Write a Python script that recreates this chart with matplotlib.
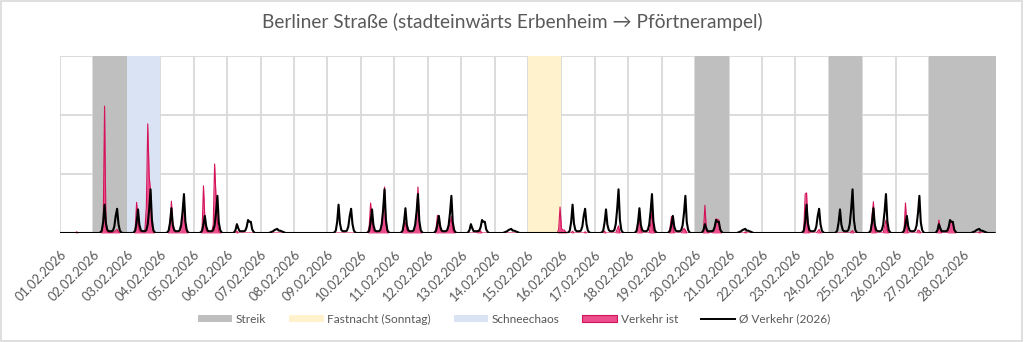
import numpy as np
import matplotlib
matplotlib.use("Agg")
import matplotlib.pyplot as plt
from matplotlib.patches import Patch, Rectangle
from matplotlib.lines import Line2D

plt.rcParams['font.family'] = ['Lato', 'DejaVu Sans']

# Tageslabels (Tagesbeginn)
dates = ["01.02.2026", "02.02.2026", "03.02.2026", "04.02.2026", "05.02.2026",
         "06.02.2026", "07.02.2026", "08.02.2026", "09.02.2026", "10.02.2026",
         "11.02.2026", "12.02.2026", "13.02.2026", "14.02.2026", "15.02.2026",
         "16.02.2026", "17.02.2026", "18.02.2026", "19.02.2026", "20.02.2026",
         "21.02.2026", "22.02.2026", "23.02.2026", "24.02.2026", "25.02.2026",
         "26.02.2026", "27.02.2026", "28.02.2026"]

# Sondertage (Tag im Monat)
streik_days = [2, 20, 24, 27, 28]
fastnacht_days = [15]
schnee_days = [3]

# Ø Verkehr 2026 je Wochentag, stündlich (0-23 Uhr)
avg_sun = [0, 0, 0, 0, 0, 0, 0, 0, 0, 0, 0, 0, 0, 0, 0, 0, 0, 0, 0, 0, 0, 0, 0, 0]
avg_mon = [0, 0, 0, 0, 0, 1, 4, 19, 48, 16, 5, 3, 3, 3, 4, 11, 29, 41, 15, 4, 1, 0, 0, 0]
avg_tue = [0, 0, 0, 0, 0, 1, 4, 18, 40, 14, 5, 3, 3, 3, 5, 15, 40, 74, 22, 5, 1, 0, 0, 0]
avg_wed = [0, 0, 0, 0, 0, 1, 4, 18, 42, 14, 5, 3, 3, 3, 5, 14, 36, 66, 20, 5, 1, 0, 0, 0]
avg_thu = [0, 0, 0, 0, 0, 1, 4, 15, 29, 11, 4, 3, 3, 3, 5, 13, 34, 63, 18, 5, 1, 0, 0, 0]
avg_fri = [0, 0, 0, 0, 0, 1, 5, 15, 8, 3, 3, 3, 3, 4, 10, 22, 19, 19, 6, 2, 0, 0, 0, 0]
avg_sat = [0, 0, 0, 0, 0, 0, 0, 1, 2, 3, 5, 6, 7, 4, 4, 3, 2, 1, 0, 0, 0, 0, 0, 0]
avg_week = [avg_sun, avg_mon, avg_tue, avg_wed, avg_thu, avg_fri, avg_sat]

# Verkehr ist, stündlich je Tag (01.02. = Sonntag)
ist = [
    [0, 0, 0, 0, 0, 0, 0, 0, 0, 0, 0, 0, 2, 0, 0, 0, 0, 0, 0, 0, 0, 0, 0, 0],
    [0, 0, 0, 0, 0, 0, 1, 12, 215, 10, 2, 1, 1, 1, 1, 2, 4, 6, 2, 0, 0, 0, 0, 0],
    [0, 0, 0, 0, 0, 0, 6, 52, 20, 4, 2, 2, 3, 6, 45, 185, 97, 70, 12, 2, 0, 0, 0, 0],
    [0, 0, 0, 0, 0, 0, 2, 14, 54, 10, 3, 2, 2, 2, 3, 8, 28, 62, 12, 2, 0, 0, 0, 0],
    [0, 0, 0, 0, 0, 0, 5, 80, 24, 4, 2, 2, 2, 3, 14, 117, 62, 16, 3, 1, 0, 0, 0, 0],
    [0, 0, 0, 0, 0, 0, 0, 3, 0, 0, 0, 0, 0, 0, 0, 0, 0, 0, 0, 0, 0, 0, 0, 0],
    [0, 0, 0, 0, 0, 0, 0, 0, 0, 0, 0, 0, 0, 0, 0, 0, 0, 0, 0, 0, 0, 0, 0, 0],
    [0, 0, 0, 0, 0, 0, 0, 0, 0, 0, 0, 0, 0, 0, 0, 0, 0, 0, 0, 0, 0, 0, 0, 0],
    [0, 0, 0, 0, 0, 0, 0, 0, 0, 0, 0, 0, 0, 0, 0, 0, 0, 0, 0, 0, 0, 0, 0, 0],
    [0, 0, 0, 0, 0, 0, 12, 51, 22, 4, 2, 2, 2, 3, 6, 16, 38, 78, 14, 2, 0, 0, 0, 0],
    [0, 0, 0, 0, 0, 0, 2, 10, 18, 5, 2, 2, 2, 3, 5, 12, 34, 78, 12, 2, 0, 0, 0, 0],
    [0, 0, 0, 0, 0, 0, 8, 30, 24, 6, 3, 2, 2, 3, 5, 9, 16, 28, 5, 1, 0, 0, 0, 0],
    [0, 0, 0, 0, 0, 0, 0, 0, 0, 0, 0, 0, 4, 5, 3, 0, 0, 0, 0, 0, 0, 0, 0, 0],
    [0, 0, 0, 0, 0, 0, 0, 0, 0, 0, 0, 0, 0, 0, 0, 0, 0, 0, 0, 0, 0, 0, 0, 0],
    [0, 0, 0, 0, 0, 0, 0, 0, 0, 0, 0, 0, 0, 0, 0, 0, 0, 0, 0, 0, 0, 0, 6, 44],
    [8, 5, 5, 2, 0, 0, 0, 0, 3, 0, 0, 0, 0, 0, 0, 0, 0, 2, 0, 0, 0, 0, 0, 0],
    [0, 0, 0, 0, 0, 0, 0, 3, 0, 0, 0, 0, 0, 0, 0, 0, 6, 12, 0, 0, 0, 0, 0, 0],
    [0, 0, 0, 0, 0, 0, 0, 10, 40, 5, 0, 0, 0, 0, 0, 0, 14, 36, 5, 0, 0, 0, 0, 0],
    [0, 0, 0, 0, 0, 0, 9, 28, 12, 0, 0, 0, 0, 0, 0, 4, 8, 5, 0, 0, 0, 0, 0, 0],
    [0, 0, 0, 0, 0, 0, 4, 47, 8, 2, 0, 0, 0, 3, 7, 24, 23, 22, 4, 0, 0, 0, 0, 0],
    [0, 0, 0, 0, 0, 0, 0, 0, 0, 0, 0, 0, 2, 0, 0, 0, 0, 0, 0, 0, 0, 0, 0, 0],
    [0, 0, 0, 0, 0, 0, 0, 0, 0, 0, 0, 0, 0, 0, 0, 0, 0, 0, 0, 0, 0, 0, 0, 0],
    [0, 0, 0, 0, 0, 0, 6, 66, 68, 8, 0, 0, 0, 0, 0, 0, 3, 6, 1, 0, 0, 0, 0, 0],
    [0, 0, 0, 0, 0, 0, 0, 0, 0, 0, 0, 0, 0, 0, 0, 0, 2, 4, 0, 0, 0, 0, 0, 0],
    [0, 0, 0, 0, 0, 0, 0, 30, 53, 5, 0, 0, 0, 0, 0, 0, 11, 22, 4, 0, 0, 0, 0, 0],
    [0, 0, 0, 0, 0, 0, 5, 51, 10, 0, 0, 0, 0, 0, 0, 0, 5, 4, 0, 0, 0, 0, 0, 0],
    [0, 0, 0, 0, 0, 0, 3, 22, 6, 0, 0, 0, 0, 0, 5, 20, 19, 18, 4, 0, 0, 0, 0, 0],
    [0, 0, 0, 0, 0, 0, 0, 0, 0, 0, 0, 0, 2, 0, 0, 0, 0, 0, 0, 0, 0, 0, 0, 0],
]

ist_values = np.concatenate([np.array(day, dtype=float) for day in ist])
avg_values = np.concatenate([np.array(avg_week[d % 7], dtype=float) for d in range(len(dates))])
x = np.arange(len(ist_values)) / 24.0

grey = '#595959'
grid_c = '#D9D9D9'

fig = plt.figure(figsize=(10.24, 3.42), dpi=100)
ax = fig.add_axes([60 / 1024, 1 - 233 / 342, 936 / 1024, 177 / 342])

# Hintergrundbänder
for d in streik_days:
    ax.axvspan(d - 1, d, color='#BFBFBF', lw=0, zorder=1)
for d in fastnacht_days:
    ax.axvspan(d - 1, d, color='#FFF2CC', lw=0, zorder=1)
for d in schnee_days:
    ax.axvspan(d - 1, d, color='#DAE3F3', lw=0, zorder=1)

ax.fill_between(x, ist_values, 0, color='#EC4D8C', lw=0, zorder=2)
ax.plot(x, ist_values, color='#D4145A', lw=0.8, zorder=2.5)
ax.plot(x, avg_values, color='black', lw=1.5, zorder=3)

ax.set_xlim(0, len(dates))
ax.set_ylim(0, 300)
ax.set_xticks(np.arange(len(dates)))
ax.set_xticklabels(dates, rotation=45, ha='right', rotation_mode='anchor',
                   fontsize=9.3, color=grey)
ax.set_yticks([0, 100, 200, 300])
ax.set_yticklabels([])
ax.tick_params(axis='both', length=0)
ax.tick_params(axis='x', pad=11)

# Gitter: Tagesgrenzen und horizontale Linien
for d in range(len(dates) + 1):
    ax.axvline(d, color=grid_c, lw=1.3, zorder=0)
for yv in [100, 200, 300]:
    ax.axhline(yv, color=grid_c, lw=1.3, zorder=0)
for s in ax.spines.values():
    s.set_visible(False)

fig.text(0.5, 1 - 22 / 342, 'Berliner Straße (stadteinwärts Erbenheim → Pförtnerampel)',
         ha='center', va='center', fontsize=13.8, color=grey)

handles = [
    Patch(facecolor='#BFBFBF', edgecolor='none'),
    Patch(facecolor='#FFF2CC', edgecolor='none'),
    Patch(facecolor='#DAE3F3', edgecolor='none'),
    Patch(facecolor='#EC4D8C', edgecolor='#D4145A', lw=0.8),
    Line2D([0], [0], color='black', lw=1.4),
]
labels = ['Streik', 'Fastnacht (Sonntag)', 'Schneechaos', 'Verkehr ist', 'Ø Verkehr (2026)']
fig.legend(handles, labels, loc='center', bbox_to_anchor=(0.502, 1 - 319 / 342), ncol=5,
           frameon=False, fontsize=8.6, handlelength=2.9, handleheight=0.55,
           columnspacing=1.9, handletextpad=0.3, labelcolor=grey)

fig.add_artist(Rectangle((0.001, 0.002), 0.997, 0.995, transform=fig.transFigure,
                         fill=False, edgecolor=grid_c, lw=1.2))

fig.savefig('out.png', dpi=100)
